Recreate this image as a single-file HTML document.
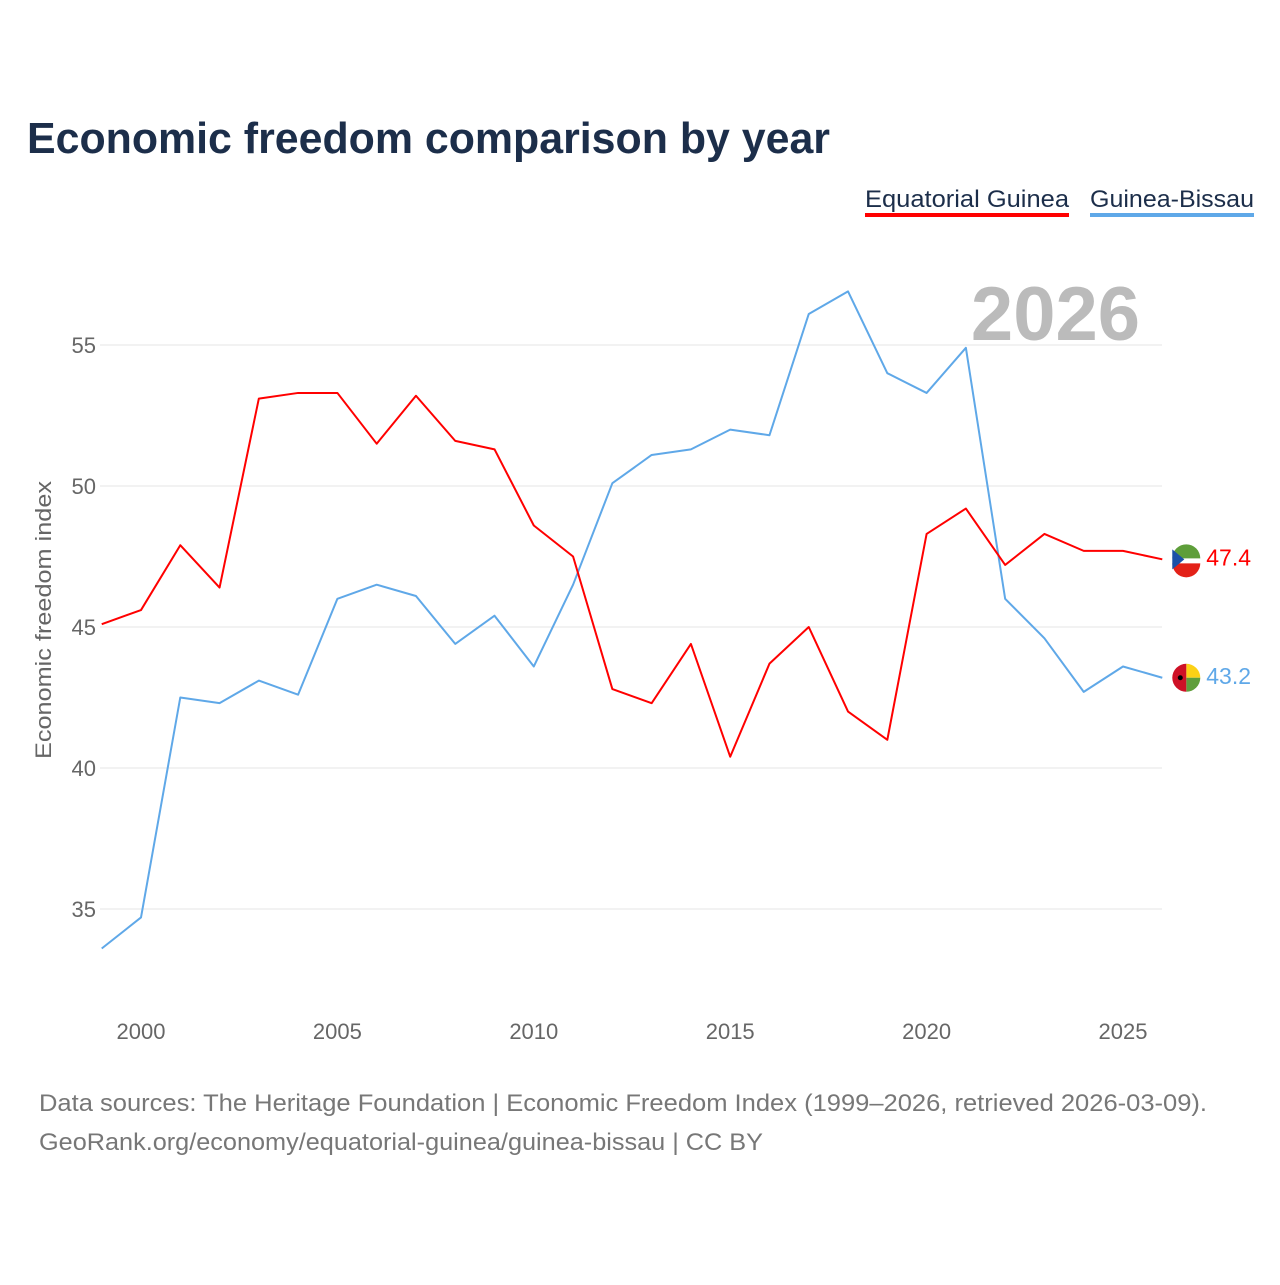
<!DOCTYPE html>
<html><head><meta charset="utf-8"><style>
body{margin:0;background:#fff;font-family:"Liberation Sans",sans-serif}
</style></head><body>
<svg id="chart" width="1280" height="1280" xmlns="http://www.w3.org/2000/svg">
<rect width="1280" height="1280" fill="#fff"/>
<text x="27" y="153" font-size="44" font-weight="bold" fill="#1c2e4a" textLength="803" lengthAdjust="spacingAndGlyphs">Economic freedom comparison by year</text>
<g>
<text x="865" y="207" font-size="24" fill="#1c2e4a" textLength="204" lengthAdjust="spacingAndGlyphs">Equatorial Guinea</text>
<rect x="865" y="213" width="204" height="4" fill="#f00"/>
<text x="1090" y="207" font-size="24" fill="#1c2e4a" textLength="164" lengthAdjust="spacingAndGlyphs">Guinea-Bissau</text>
<rect x="1090" y="213" width="164" height="4" fill="#5fa8e8"/>
</g>
<text x="1140" y="340" text-anchor="end" font-size="76" font-weight="bold" fill="#bbb">2026</text>
<g id="grid"></g><g id="xt"></g>
<text transform="translate(51,620) rotate(-90)" text-anchor="middle" font-size="22" fill="#666" textLength="278" lengthAdjust="spacingAndGlyphs">Economic freedom index</text>
<g id="series"></g>
<text x="39" y="1111" font-size="24" fill="#777" textLength="1168" lengthAdjust="spacingAndGlyphs">Data sources: The Heritage Foundation | Economic Freedom Index (1999–2026, retrieved 2026-03-09).</text>
<text x="39" y="1150" font-size="24" fill="#777" textLength="724" lengthAdjust="spacingAndGlyphs">GeoRank.org/economy/equatorial-guinea/guinea-bissau | CC BY</text>
</svg>
<script>
const years=[1999,2000,2001,2002,2003,2004,2005,2006,2007,2008,2009,2010,2011,2012,2013,2014,2015,2016,2017,2018,2019,2020,2021,2022,2023,2024,2025,2026];
const eqGuinea=[45.1,45.6,47.9,46.4,53.1,53.3,53.3,51.5,53.2,51.6,51.3,48.6,47.5,42.8,42.3,44.4,40.4,43.7,45.0,42.0,41.0,48.3,49.2,47.2,48.3,47.7,47.7,47.4];
const guineaBissau=[33.6,34.7,42.5,42.3,43.1,42.6,46.0,46.5,46.1,44.4,45.4,43.6,46.5,50.1,51.1,51.3,52.0,51.8,56.1,56.9,54.0,53.3,54.9,46.0,44.6,42.7,43.6,43.2];
const yTicks=[35,40,45,50,55];
const xTicks=[2000,2005,2010,2015,2020,2025];
const NS="http://www.w3.org/2000/svg";
const xs=y=>141+(y-2000)*39.28;
const ys=v=>768-(v-40)*28.2;
function mk(t,a,p){const e=document.createElementNS(NS,t);for(const k in a)e.setAttribute(k,a[k]);p.appendChild(e);return e;}
const g=document.getElementById('grid');
yTicks.forEach(v=>{
 const l=mk('line',{x1:100,x2:1162,y1:ys(v),y2:ys(v),stroke:'#e6e6e6','stroke-width':1},g);
 
 
 const t=mk('text',{x:96,y:ys(v)+8,'text-anchor':'end','font-size':22,fill:'#666'},g);
 
 
 t.textContent=v;
});
const xt=document.getElementById('xt');
xTicks.forEach(y=>{
 const t=mk('text',{x:xs(y),y:1039,'text-anchor':'middle','font-size':22,fill:'#666'},xt);
 
 
 t.textContent=y;
});
const s=document.getElementById('series');
function line(vals,color,name){
 const p=mk('polyline',{points:vals.map((v,i)=>xs(years[i])+','+ys(v)).join(' '),fill:'none',stroke:color,'stroke-width':2,'stroke-linejoin':'round'},s);
 
 
 const last=vals[vals.length-1],cx=xs(years[years.length-1])+24,cy=ys(last);
 const f=mk('g',{},s);
 
 
 if(name==='equatorial-guinea'){
  mk('circle',{cx:cx,cy:cy,r:14,fill:'#fff'},f);
  mk('path',{d:`M${cx-14} ${cy-1}A14 14 0 0 1 ${cx+14} ${cy-1}Z`,fill:'#5e9e3a'},f);
  mk('path',{d:`M${cx-14} ${cy+4}A14 14 0 0 0 ${cx+14} ${cy+4}Z`,fill:'#e32118'},f);
  mk('path',{d:`M${cx-14} ${cy-10}L${cx-2} ${cy}L${cx-14} ${cy+10}Z`,fill:'#1b50a8'},f);
 }else{
  mk('path',{d:`M${cx} ${cy-14}A14 14 0 0 1 ${cx+14} ${cy}L${cx} ${cy}Z`,fill:'#fcd116'},f);
  mk('path',{d:`M${cx} ${cy+14}A14 14 0 0 0 ${cx+14} ${cy}L${cx} ${cy}Z`,fill:'#5f9e3b'},f);
  mk('path',{d:`M${cx} ${cy-14}A14 14 0 0 0 ${cx} ${cy+14}Z`,fill:'#ce1126'},f);
  mk('circle',{cx:cx-6,cy:cy,r:2.5,fill:'#000'},f);
 }
 const t=mk('text',{x:cx+20,y:cy+6,'font-size':23,fill:color},s);
 
 
 t.textContent=last.toFixed(1);
}
line(guineaBissau,'#5fa8e8','guinea-bissau');
line(eqGuinea,'#f00','equatorial-guinea');
</script>
</body></html>
